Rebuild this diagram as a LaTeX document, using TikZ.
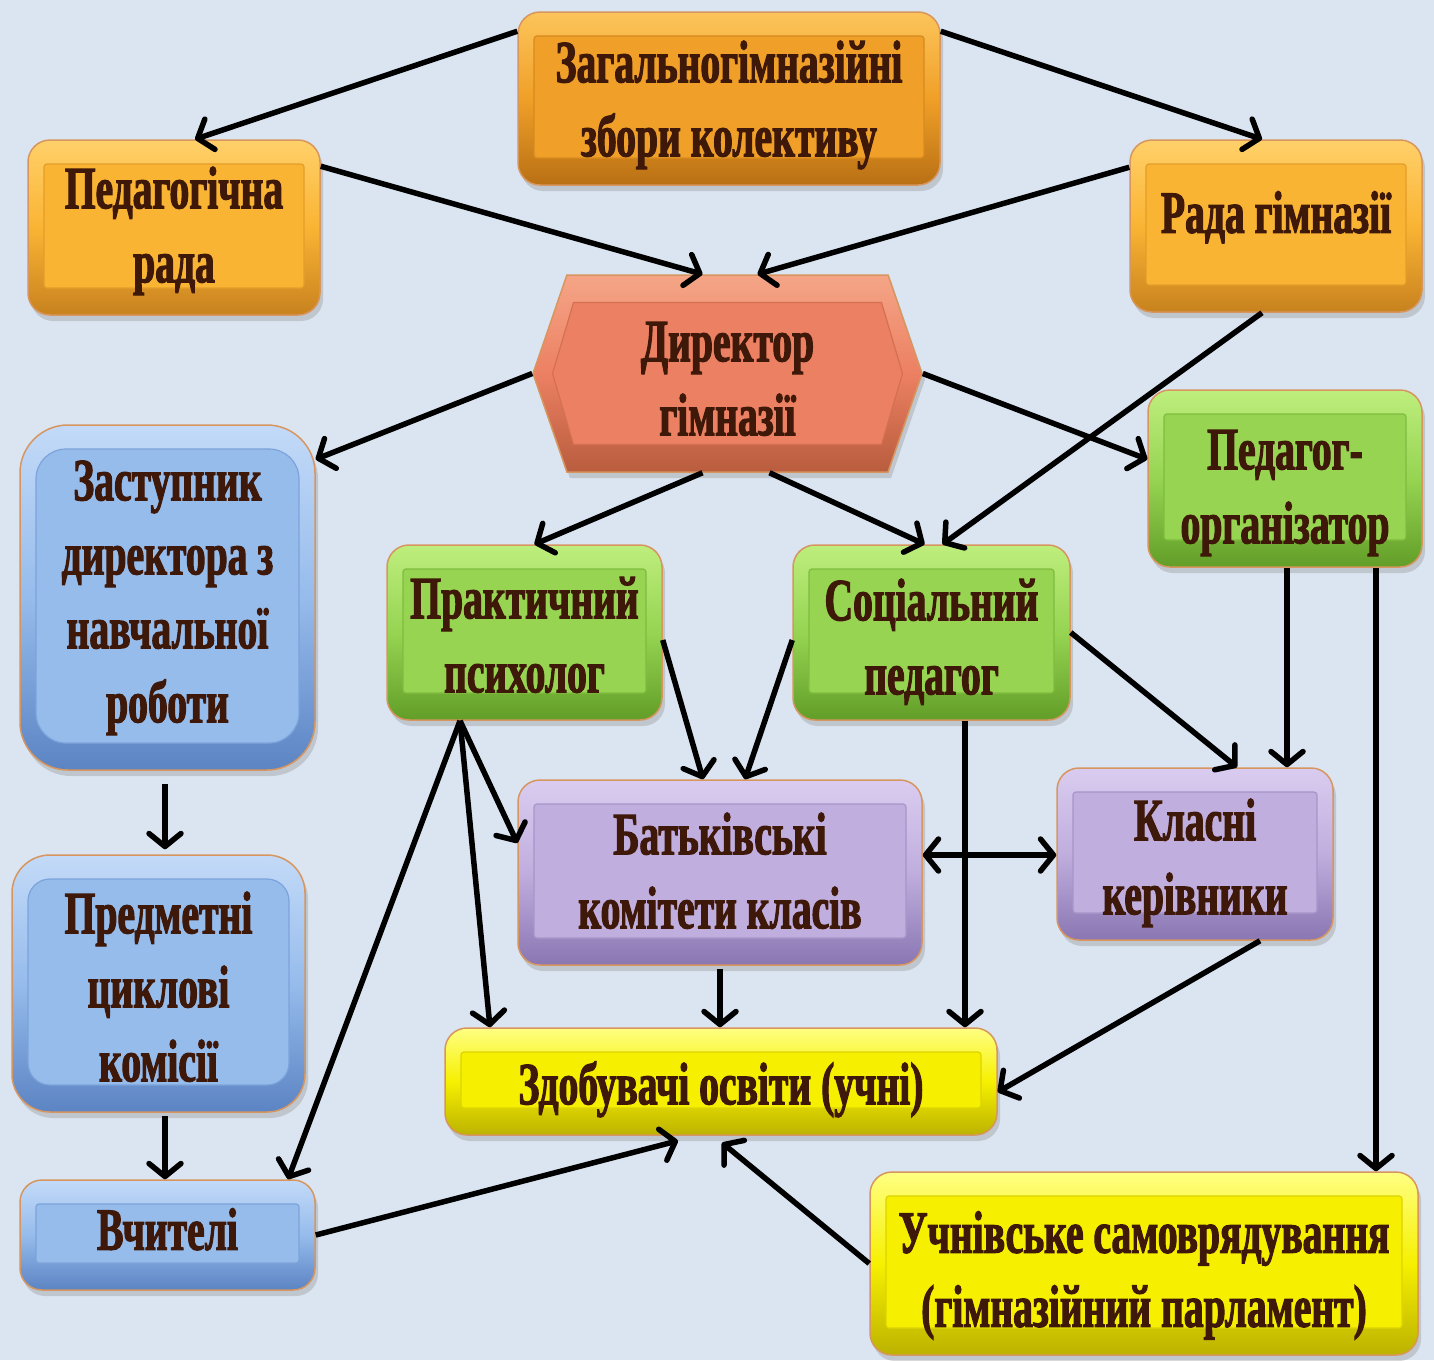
\documentclass[tikz,border=0pt]{standalone}
\usepackage{fontspec}
\setmainfont{Liberation Serif}[FakeStretch=0.66, FakeBold=1.8]
\usetikzlibrary{arrows.meta,shapes.symbols,shadows}
\definecolor{bg}{RGB}{219,229,241}
\definecolor{txt}{RGB}{62,24,8}
\definecolor{rim}{RGB}{215,150,95}
\definecolor{oat}{RGB}{252,196,90}\definecolor{oam}{RGB}{240,160,40}\definecolor{oab}{RGB}{185,112,20}
\definecolor{obt}{RGB}{255,208,105}\definecolor{obm}{RGB}{250,180,52}\definecolor{obb}{RGB}{200,130,30}
\definecolor{rdt}{RGB}{245,165,135}\definecolor{rdm}{RGB}{236,128,98}\definecolor{rdb}{RGB}{185,92,62}
\definecolor{blt}{RGB}{195,218,248}\definecolor{blm}{RGB}{150,188,236}\definecolor{blb}{RGB}{92,132,195}
\definecolor{grt}{RGB}{190,238,125}\definecolor{grm}{RGB}{150,212,82}\definecolor{grb}{RGB}{98,158,40}
\definecolor{put}{RGB}{218,204,240}\definecolor{pum}{RGB}{192,174,222}\definecolor{pub}{RGB}{138,118,178}
\definecolor{yet}{RGB}{255,255,130}\definecolor{yem}{RGB}{246,240,0}\definecolor{yeb}{RGB}{188,178,0}
\newcommand\bigfont{\fontsize{60}{74}\selectfont\bfseries}
\newcommand\boxtext[2]{\raisebox{-#1}[\height][\depth]{\begin{tabular}{@{}c@{}}#2\end{tabular}}}
\tikzset{
  barb/.tip={Straight Barb[length=13pt,width=32pt,round]},
  arr/.style={line width=5.5pt, -barb},
  darr/.style={line width=5.5pt, barb-barb},
  bx/.style n args={5}{draw=rim, line width=1.5pt, rounded corners=#4,
    top color=#1, bottom color=#3, middle color=#2,
    drop shadow={shadow xshift=3pt,shadow yshift=-6pt,opacity=0.3},
    text=txt, font=\bigfont, inner sep=0pt,
    path picture={\draw[line width=1.2pt, rounded corners=#5, fill=#2, draw=#3!45!#2]
        ([shift={(16pt,-24pt)}]path picture bounding box.north west) rectangle
        ([shift={(-16pt,27pt)}]path picture bounding box.south east);}},
  orbox/.style={bx={oat}{oam}{oab}{22pt}{3pt}},
  orlbox/.style={bx={obt}{obm}{obb}{22pt}{3pt}},
  bluebox/.style 2 args={bx={blt}{blm}{blb}{#1}{#2}},
  greenbox/.style={bx={grt}{grm}{grb}{22pt}{3pt}},
  purplebox/.style={bx={put}{pum}{pub}{22pt}{3pt}},
  yellowbox/.style={bx={yet}{yem}{yeb}{22pt}{3pt}},
  hexbox/.style={signal, signal to=west and east, signal pointer angle=142,
    draw=rim, line width=1.5pt, top color=rdt, bottom color=rdb, middle color=rdm,
    drop shadow={shadow xshift=3pt,shadow yshift=-6pt,opacity=0.3},
    text=txt, font=\bigfont, inner sep=0pt,
    path picture={\draw[line width=1.2pt, fill=rdm, draw=rdb!45!rdm]
      ([shift={(-175pt,0pt)}]path picture bounding box.center) --
      ([shift={(-154pt,71pt)}]path picture bounding box.center) --
      ([shift={(154pt,71pt)}]path picture bounding box.center) --
      ([shift={(175pt,0pt)}]path picture bounding box.center) --
      ([shift={(154pt,-71pt)}]path picture bounding box.center) --
      ([shift={(-154pt,-71pt)}]path picture bounding box.center) -- cycle;}}
}
\begin{document}
\begin{tikzpicture}[x=1pt,y=-1pt]
\useasboundingbox[fill=bg] (0,0) rectangle (1434,1360);
% nodes
\node[orbox, minimum width=422pt, minimum height=173pt] (zbory) at (729,98.5) {\boxtext{6pt}{Загальногімназійні\\збори колективу}};
\node[orlbox, minimum width=292pt, minimum height=175pt] (pedrada) at (174,227.5) {\boxtext{3pt}{Педагогічна\\рада}};
\node[orlbox, minimum width=292pt, minimum height=172pt] (rada) at (1276,226) {\boxtext{-8pt}{Рада гімназії}};
\node[hexbox, minimum width=389pt, minimum height=197pt] (dir) at (727.5,373.5) {\boxtext{10pt}{Директор\\гімназії}};
\node[bluebox={48pt}{30pt}, minimum width=295pt, minimum height=345pt] (zast) at (167.5,597.5) {\boxtext{-1pt}{Заступник\\директора з\\навчальної\\роботи}};
\node[bluebox={38pt}{22pt}, minimum width=293pt, minimum height=257pt] (predm) at (158.5,983.5) {\boxtext{9pt}{Предметні\\циклові\\комісії}};
\node[bluebox={22pt}{3pt}, minimum width=295pt, minimum height=110pt] (vchyt) at (167.5,1235) {\boxtext{0pt}{Вчителі}};
\node[greenbox, minimum width=275pt, minimum height=175pt] (psych) at (524.5,632.5) {\boxtext{8pt}{Практичний\\психолог}};
\node[greenbox, minimum width=277pt, minimum height=175pt] (soc) at (931.5,632.5) {\boxtext{10pt}{Соціальний\\педагог}};
\node[greenbox, minimum width=274pt, minimum height=177pt] (org) at (1285,478.5) {\boxtext{13pt}{Педагог-\\організатор}};
\node[purplebox, minimum width=404pt, minimum height=185pt] (bat) at (720,872.5) {\boxtext{4pt}{Батьківські\\комітети класів}};
\node[purplebox, minimum width=276pt, minimum height=172pt] (klas) at (1195,854) {\boxtext{8.5pt}{Класні\\керівники}};
\node[yellowbox, minimum width=552pt, minimum height=107pt] (zdob) at (721,1081.5) {\boxtext{8pt}{Здобувачі освіти (учні)}};
\node[yellowbox, minimum width=548pt, minimum height=183pt] (uchn) at (1144,1263.5) {\boxtext{11.5pt}{Учнівське самоврядування\\(гімназійний парламент)}};
% connectors
\draw[arr] ([yshift=-20pt]zbory.north west) -- ([xshift=21pt]pedrada.north);
\draw[arr] ([yshift=-20pt]zbory.north east) -- ([xshift=-14pt]rada.north);
\draw[arr] ([yshift=-27pt]pedrada.north east) -- ([xshift=-25pt]dir.north);
\draw[arr] ([yshift=-28pt]rada.north west) -- ([xshift=30pt]dir.north);
\draw[arr] (dir.west) -- ([yshift=-35pt]zast.north east);
\draw[arr] (dir.east) -- ([yshift=-70pt]org.north west);
\draw[arr] ([xshift=-14pt]rada.south) -- ([xshift=11pt]soc.north);
\draw[arr] ([xshift=-25pt]dir.south) -- ([xshift=10pt]psych.north);
\draw[arr] ([xshift=42pt]dir.south) -- ([xshift=-7pt]soc.north);
\draw[arr] ([xshift=-2.5pt,yshift=-13pt]zast.south) -- ([xshift=6.5pt,yshift=5pt]predm.north);
\draw[arr] ([xshift=6.5pt,yshift=-3pt]predm.south) -- ([xshift=-2.5pt]vchyt.north);
\draw[arr] ([yshift=-7.5pt]psych.east) -- ([xshift=-17pt]bat.north);
\draw[arr] ([yshift=-7.5pt]soc.west) -- ([xshift=25pt]bat.north);
\draw[arr] (soc.east) -- ([xshift=42pt]klas.north);
\draw[arr] ([xshift=2pt]org.south) -- ([xshift=92pt]klas.north);
\draw[arr] ([xshift=91pt]org.south) -- ([xshift=232pt]uchn.north);
\draw[arr] ([xshift=33.5pt]soc.south) -- ([xshift=244pt]zdob.north);
\draw[darr] ([yshift=17.5pt]bat.east) -- ([yshift=-1pt]klas.west);
\draw[arr] ([yshift=-3pt]bat.south) -- ([xshift=-1pt]zdob.north);
\draw[arr] ([xshift=65pt]klas.south) -- ([yshift=-10.5pt]zdob.east);
\draw[arr] ([xshift=-64.5pt]psych.south) -- ([xshift=-231pt]zdob.north);
\draw[arr] ([xshift=-64.5pt]psych.south) -- ([yshift=29.5pt]bat.west);
\draw[arr] ([xshift=-64.5pt]psych.south) -- ([xshift=120.5pt]vchyt.north);
\draw[arr] (vchyt.east) -- ([xshift=-43pt,yshift=-5pt]zdob.south);
\draw[arr] (uchn.west) -- ([xshift=1pt,yshift=-7pt]zdob.south);
\end{tikzpicture}
\end{document}
